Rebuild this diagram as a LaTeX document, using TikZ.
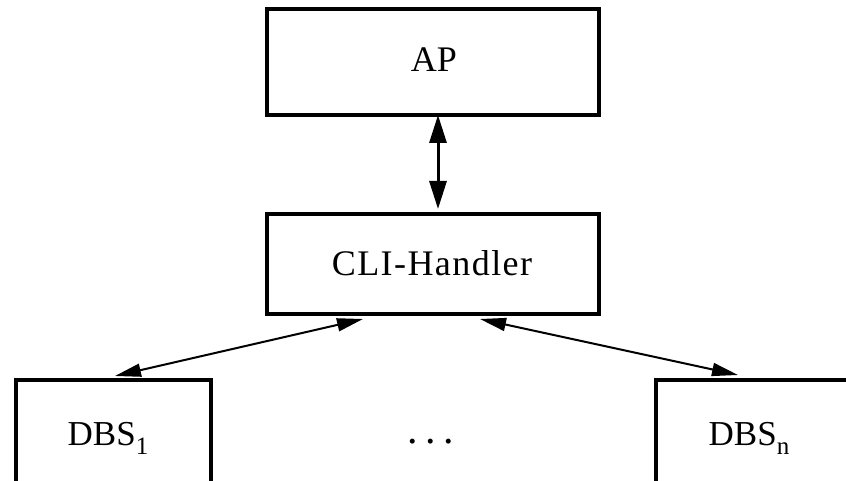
\documentclass[tikz,border=0pt]{standalone}
\usepackage{fontspec}
\setmainfont{Liberation Serif}
\usetikzlibrary{arrows.meta}
\begin{document}
\begin{tikzpicture}[x=1pt,y=-1pt,
  box/.style={draw=black,line width=4pt,rectangle,inner sep=0pt},
  lbl/.style={anchor=base,inner sep=0pt,font=\fontsize{35}{40}\selectfont},
  bigarrow/.style={line width=3pt,{Triangle[length=28pt,width=17pt]}-{Triangle[length=28pt,width=17pt]}},
  smallarrow/.style={line width=2pt,{Triangle[length=26pt,width=13pt]}-{Triangle[length=26pt,width=13pt]}}]
\useasboundingbox (0,0) rectangle (846,481);
\begin{scope}
\clip (0,0) rectangle (846,481);
\node[box,minimum width=332pt,minimum height=105.5pt] (ap) at (433,62.25) {};
\node[box,minimum width=332pt,minimum height=100pt] (cli) at (433,264) {};
\node[box,minimum width=195pt,minimum height=160pt] (dbs1) at (113,460) {};
\node[box,minimum width=244pt,minimum height=160pt] (dbsn) at (778,460) {};
\end{scope}
\node[lbl,font=\fontsize{36}{40}\selectfont] (aptext) at (434,72) {AP};
\node[lbl,font=\fontsize{36}{40}\selectfont\addfontfeature{LetterSpace=4}] (clitext) at (432,275) {CLI-Handler};
\node[lbl] (dbs1text) at (108,445) {DBS\raisebox{-9pt}{\fontsize{25}{25}\selectfont 1}};
\node[lbl] (dbsntext) at (749,445) {DBS\raisebox{-9pt}{\fontsize{25}{25}\selectfont n}};
\node[lbl,font=\fontsize{42}{44}\selectfont] (dots) at (431,443) {.\hspace{7.5pt}.\hspace{7.5pt}.};
\draw[bigarrow] ([xshift=5pt,yshift=2pt]ap.south) -- ([xshift=5pt,yshift=3pt]cli.north);
\draw[smallarrow] ([xshift=-70pt,yshift=-3pt]cli.south) -- ([xshift=2pt,yshift=2pt]dbs1.north);
\draw[smallarrow] ([xshift=47pt,yshift=-3pt]cli.south) -- ([xshift=-40pt,yshift=3pt]dbsn.north);
\end{tikzpicture}
\end{document}
